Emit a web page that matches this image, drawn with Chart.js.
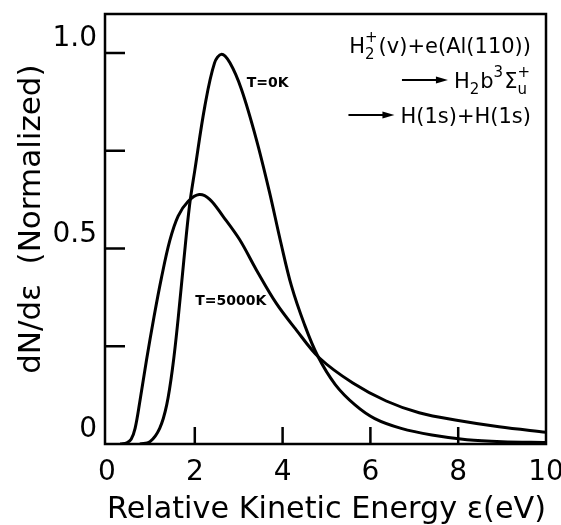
<!DOCTYPE html>
<html>
<head>
<meta charset="utf-8">
<script src="https://cdn.jsdelivr.net/npm/chart.js@4.4.0/dist/chart.umd.min.js"></script>
<style>
  html, body { margin: 0; padding: 0; background: #fff; }
  #wrap { width: 561px; height: 525px; }
</style>
</head>
<body>
<div id="wrap"><canvas id="chart" width="561" height="525"></canvas></div>
<script>
// values
const energyT0 = [0.75, 0.98, 1.2, 1.36, 1.5, 1.62, 1.75, 1.88, 2.0, 2.23, 2.45, 2.61, 2.8, 3.06, 3.4, 3.7, 3.95, 4.2, 4.5, 4.8, 5.2, 5.65, 6.1, 6.7, 7.4, 8.2, 9.0, 10];
const countT0  = [0, 0.006, 0.04, 0.1, 0.2, 0.32, 0.47, 0.61, 0.7, 0.865, 0.975, 0.997, 0.975, 0.908, 0.78, 0.645, 0.52, 0.405, 0.305, 0.225, 0.152, 0.1, 0.065, 0.04, 0.023, 0.011, 0.006, 0.004];

const energyT5000 = [0.3, 0.45, 0.55, 0.64, 0.75, 0.9, 1.07, 1.24, 1.43, 1.62, 1.85, 2.1, 2.34, 2.64, 3.02, 3.4, 3.85, 4.31, 4.84, 5.6, 6.36, 7.11, 8.0, 8.93, 10];
const countT5000  = [0, 0.003, 0.012, 0.04, 0.11, 0.215, 0.325, 0.425, 0.52, 0.583, 0.621, 0.638, 0.626, 0.583, 0.523, 0.446, 0.361, 0.292, 0.22, 0.156, 0.11, 0.08, 0.06, 0.044, 0.03];

const xTickLabels = [0, 2, 4, 6, 8, 10];
const yTickLabels = [0, 0.5, 1.0];
const xMinorTicks = [2, 4, 6, 8];
const yMinorTicks = [0.25, 0.5, 0.75, 1.0];

const FONT = '"DejaVu Sans", sans-serif';

function toPoints(xs, ys) {
  return xs.map((x, i) => ({ x: x, y: ys[i] }));
}

// frame + inward ticks + labels on the plot
const framePlugin = {
  id: 'frame',
  afterDraw(chart) {
    const ctx = chart.ctx;
    const a = chart.chartArea;
    const xs = chart.scales.x, ys = chart.scales.y;
    ctx.save();
    ctx.strokeStyle = '#000';
    ctx.lineWidth = 2.5;
    ctx.strokeRect(a.left - 2, a.top, a.right - a.left + 2, a.bottom - a.top);

    ctx.beginPath();
    yMinorTicks.forEach(v => {
      const py = ys.getPixelForValue(v);
      ctx.moveTo(a.left - 2, py);
      ctx.lineTo(a.left + 18, py);
    });
    xMinorTicks.forEach(v => {
      const px = xs.getPixelForValue(v);
      ctx.moveTo(px, a.bottom);
      ctx.lineTo(px, a.bottom - 17);
    });
    ctx.stroke();

    // curve labels
    ctx.fillStyle = '#000';
    ctx.font = 'bold 14px ' + FONT;
    ctx.textAlign = 'center';
    ctx.textBaseline = 'middle';
    ctx.fillText('T=0K', xs.getPixelForValue(3.66), ys.getPixelForValue(0.922));
    ctx.fillText('T=5000K', xs.getPixelForValue(2.82), ys.getPixelForValue(0.364));

    // reaction text, top right
    const right = a.right - 15;
    drawFormula(ctx, [{ t: 'H' }, { sub: '2', sup: '+' }, { t: '(v)+e(Al(110))' }], right, a.top + 39, false);
    drawFormula(ctx, [{ t: 'H' }, { sub: '2' }, { t: 'b' }, { sup: '3' }, { t: 'Σ' }, { sub: 'u', sup: '+' }], right, a.top + 74, true);
    drawFormula(ctx, [{ t: 'H(1s)+H(1s)' }], right, a.top + 109, true);
    ctx.restore();
  }
};

function drawFormula(ctx, parts, right, baseline, arrow) {
  const big = '21px ' + FONT, small = '15px ' + FONT;
  const widths = parts.map(p => {
    if (p.t) { ctx.font = big; return ctx.measureText(p.t).width; }
    ctx.font = small;
    return Math.max(p.sub ? ctx.measureText(p.sub).width : 0, p.sup ? ctx.measureText(p.sup).width : 0) + 1;
  });
  const total = widths.reduce((s, w) => s + w, 0);
  let x = right - total;
  ctx.textAlign = 'left';
  ctx.textBaseline = 'alphabetic';
  parts.forEach((p, i) => {
    if (p.t) { ctx.font = big; ctx.fillText(p.t, x, baseline); }
    else {
      ctx.font = small;
      if (p.sub) ctx.fillText(p.sub, x, baseline + 6);
      if (p.sup) ctx.fillText(p.sup, x, baseline - 11);
    }
    x += widths[i];
  });
  if (arrow) {
    const ax1 = right - total - 6, ax0 = ax1 - 46, ay = baseline - 8;
    ctx.lineWidth = 2;
    ctx.beginPath();
    ctx.moveTo(ax0, ay);
    ctx.lineTo(ax1 - 8, ay);
    ctx.stroke();
    ctx.beginPath();
    ctx.moveTo(ax1, ay);
    ctx.lineTo(ax1 - 12, ay - 3.5);
    ctx.lineTo(ax1 - 12, ay + 3.5);
    ctx.closePath();
    ctx.fill();
  }
}

new Chart(document.getElementById('chart'), {
  type: 'line',
  data: {
    datasets: [
      {
        label: 'T=0K',
        data: toPoints(energyT0, countT0),
        borderColor: '#000',
        borderWidth: 3,
        pointRadius: 0,
        tension: 0.35
      },
      {
        label: 'T=5000K',
        data: toPoints(energyT5000, countT5000),
        borderColor: '#000',
        borderWidth: 3,
        pointRadius: 0,
        tension: 0.35
      }
    ]
  },
  options: {
    responsive: false,
    animation: false,
    layout: { padding: { left: 0, top: 14, right: 15, bottom: 0 } },
    plugins: { legend: { display: false }, tooltip: { enabled: false } },
    scales: {
      x: {
        type: 'linear',
        min: 0,
        max: 10,
        afterFit(scale) { scale.height = 81; scale.paddingLeft = 0; scale.paddingRight = 0; },
        afterBuildTicks(scale) { scale.ticks = xTickLabels.map(v => ({ value: v })); },
        grid: { display: false },
        border: { display: false },
        ticks: {
          color: '#000',
          font: { family: FONT, size: 28 },
          padding: 4,
          maxRotation: 0
        },
        title: {
          display: true,
          text: 'Relative Kinetic Energy ε(eV)',
          color: '#000',
          font: { family: FONT, size: 31, lineHeight: 1 },
          padding: 0
        }
      },
      y: {
        min: 0,
        max: 1.1,
        afterFit(scale) { scale.width = 107; scale.paddingTop = 0; scale.paddingBottom = 0; },
        afterBuildTicks(scale) { scale.ticks = yTickLabels.map(v => ({ value: v })); },
        grid: { display: false, drawTicks: false },
        border: { display: false },
        ticks: {
          color: '#000',
          font: { family: FONT, size: 28 },
          padding: 10,
          labelOffset: -14,
          callback: v => (v === 0 ? '0' : v.toFixed(1))
        },
        title: {
          display: true,
          text: '  dN/dε  (Normalized)',
          color: '#000',
          font: { family: FONT, size: 31, lineHeight: 1 },
          padding: { top: 16, bottom: 0 }
        }
      }
    }
  },
  plugins: [framePlugin]
});
</script>
</body>
</html>
